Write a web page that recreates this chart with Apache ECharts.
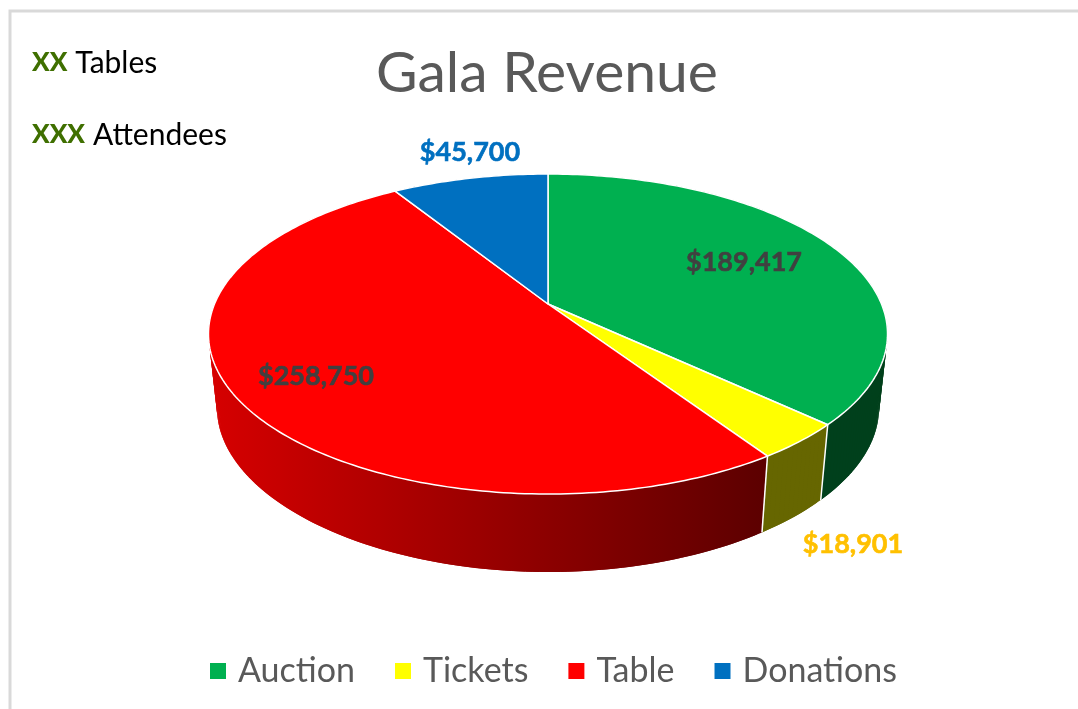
<!DOCTYPE html>
<html>
<head>
<meta charset="utf-8">
<title>Gala Revenue</title>
<style>
  html, body { margin: 0; padding: 0; background: #fff; }
  #main { width: 1078px; height: 709px; }
</style>
<script src="https://cdn.jsdelivr.net/npm/echarts@6/dist/echarts.min.js"></script>
</head>
<body>
<div id="main"></div>
<script>
const categories = ['Auction', 'Tickets', 'Table', 'Donations'];
const revenue = [189417, 18901, 258750, 45700];
const noteCounts = ['XX', 'XXX'];
const noteLabels = ['Tables', 'Attendees'];

const FONT = 'Lato, "Open Sans", sans-serif';
const topColors = ['#00b050', '#ffff00', '#ff0000', '#0070c0'];
const labelColors = ['#404040', '#ffc000', '#404040', '#0070c0'];
const labelPos = [[744, 262], [853, 544], [316, 376], [470, 152]];

// perspective view of the disc, fitted to the reference
const view = { cx: 548, cy: 304, a: 333.5, b: 154.4, k: 0.1875 };

const total = revenue.reduce((s, v) => s + v, 0);

const topPoint = (deg) => {
  const t = deg * Math.PI / 180;
  const u = Math.sin(t), v = -Math.cos(t);
  const d = 1 - view.k * v;
  return [view.cx + view.a * u / d, view.cy + view.b * v / d];
};

// the lower rim is a bit narrower and sits lower
const bottomPoint = (p) => {
  const q = (p[1] - 335) / 159;
  return [view.cx + (p[0] - view.cx) * 0.975, p[1] + 74 + 4 * q * q];
};

const arc = (from, to) => {
  const pts = [];
  for (let d = from; d < to; d += 1) pts.push(topPoint(d));
  pts.push(topPoint(to));
  return pts;
};

const sideFill = (i) => {
  if (i === 0) return '#00401c';
  if (i === 1) return '#666600';
  if (i === 3) return '#003a63';
  return new echarts.graphic.LinearGradient(210, 0, 765, 0, [
    { offset: 0, color: '#d60000' },
    { offset: 1, color: '#5c0000' }
  ], true);
};

const renderSlice = (params, api) => {
  const i = params.seriesIndex;
  const before = revenue.slice(0, i).reduce((s, v) => s + v, 0);
  const from = before / total * 360;
  const to = (before + api.value(0)) / total * 360;
  const rim = arc(from, to);
  const fill = sideFill(i);
  const children = [];
  // side wall as overlapping quads so the silhouette stays filled
  for (let k = 0; k < rim.length - 1; k++) {
    const a = rim[k];
    const b = rim[Math.min(k + 2, rim.length - 1)];
    children.push({
      type: 'polygon',
      z2: 1,
      shape: { points: [a, b, bottomPoint(b), bottomPoint(a)] },
      style: { fill: fill }
    });
  }
  children.push({
    type: 'polygon',
    z2: 3,
    shape: { points: [[view.cx, view.cy]].concat(rim) },
    style: { fill: topColors[i], stroke: '#fff', lineWidth: 1.5, lineJoin: 'round' }
  });
  children.push({
    type: 'text',
    z2: 4,
    style: {
      text: '$' + api.value(0).toLocaleString('en-US'),
      x: labelPos[i][0],
      y: labelPos[i][1],
      fill: labelColors[i],
      stroke: labelColors[i],
      lineWidth: 0.6,
      fontFamily: FONT,
      fontSize: 27,
      fontWeight: 'bold',
      align: 'center',
      verticalAlign: 'middle'
    }
  });
  // seam down the side at the end of a slice that faces the viewer
  const end = rim[rim.length - 1];
  if (to > 90 && to < 270) {
    const low = bottomPoint(end);
    children.push({
      type: 'line',
      z2: 2,
      shape: { x1: end[0], y1: end[1], x2: low[0], y2: low[1] },
      style: { stroke: '#fff', lineWidth: 1.5 }
    });
  }
  return { type: 'group', children };
};

const noteText = (i, y) => ({
  type: 'text',
  x: 32,
  y: y,
  style: {
    text: '{c|' + noteCounts[i] + '}{s| }{l|' + noteLabels[i] + '}',
    verticalAlign: 'middle',
    rich: {
      c: { fontFamily: FONT, fontSize: 26, fontWeight: 900, fill: '#3f6f00', color: '#3f6f00' },
      s: { width: 8, fontSize: 26 },
      l: { fontFamily: FONT, fontSize: 30, fill: '#000', color: '#000' }
    }
  }
});

const chart = echarts.init(document.getElementById('main'));

chart.setOption({
  animation: false,
  title: {
    text: 'Gala Revenue',
    left: 542,
    textAlign: 'center',
    top: 40,
    textStyle: { fontFamily: FONT, fontSize: 57, fontWeight: 'normal', color: '#595959' }
  },
  legend: {
    left: 205,
    top: 649,
    icon: 'rect',
    itemWidth: 16,
    itemHeight: 16,
    itemGap: 40,
    data: categories,
    textStyle: { fontFamily: FONT, fontSize: 34, color: '#595959', padding: [0, 0, 0, 7] }
  },
  graphic: [
    {
      type: 'polyline',
      shape: { points: [[10, 709], [10, 11], [1078, 11]] },
      style: { fill: 'none', stroke: '#d9d9d9', lineWidth: 3 }
    },
    noteText(0, 63),
    noteText(1, 135)
  ],
  series: categories.map((name, i) => ({
    name: name,
    type: 'custom',
    coordinateSystem: 'none',
    itemStyle: { color: topColors[i] },
    renderItem: renderSlice,
    data: [[revenue[i]]]
  }))
});

window.addEventListener('resize', () => chart.resize());
</script>
</body>
</html>
